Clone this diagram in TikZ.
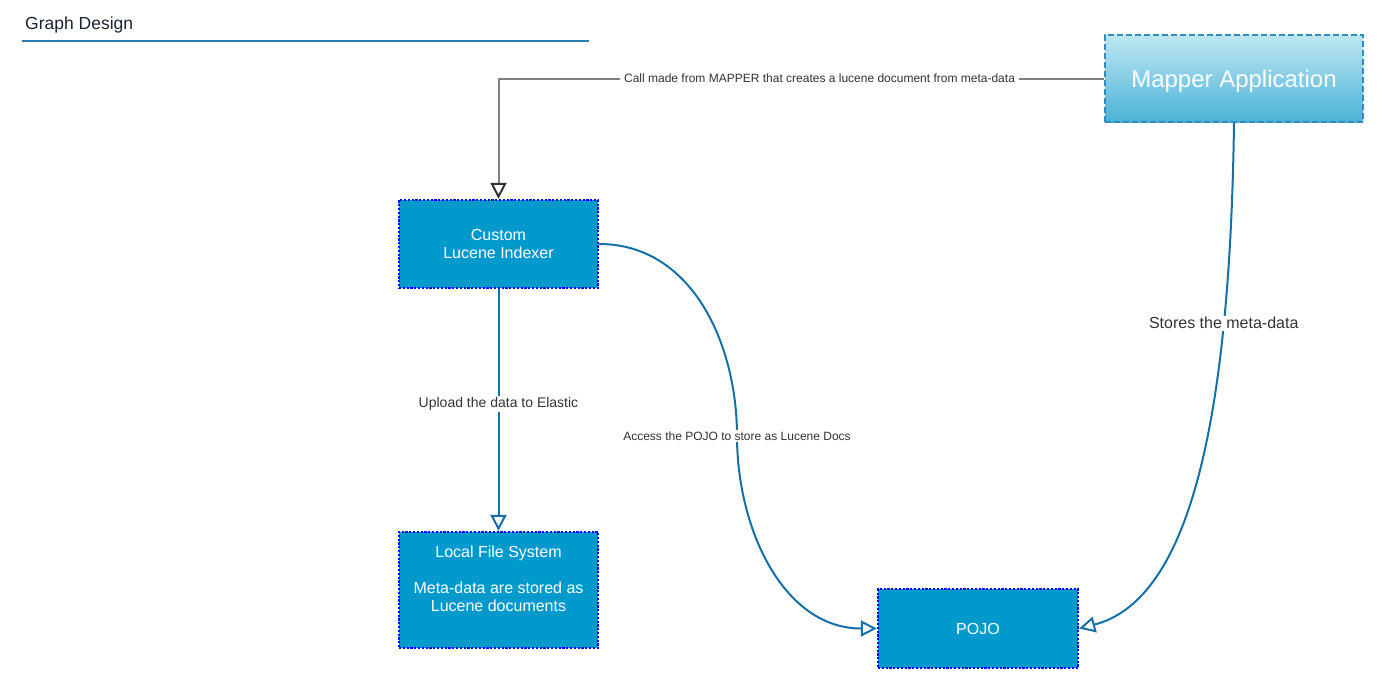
\documentclass[tikz,border=0pt]{standalone}
\usepackage{fontspec}
\setmainfont{Liberation Sans}
\usepackage{tikz}
\usetikzlibrary{arrows.meta,positioning}
\definecolor{boxblue}{RGB}{0,153,204}
\definecolor{edgeblue}{RGB}{20,112,167}
\definecolor{mappertop}{RGB}{190,231,243}
\definecolor{mapperbottom}{RGB}{75,178,215}
\definecolor{mapperborder}{RGB}{50,140,190}
\definecolor{labelgray}{RGB}{51,51,51}
\definecolor{titledark}{RGB}{25,35,50}
\definecolor{linegray}{RGB}{128,128,128}

\tikzset{
	storebox/.style={draw=blue, line width=2.4pt, dash pattern=on 2.2pt off 1.6pt, fill=boxblue,
		text=white, align=center, inner sep=0pt, font=\fontsize{16}{18}\selectfont},
	edgelabel/.style={fill=white, text=labelgray, inner xsep=4pt, inner ysep=1.5pt},
	openhead/.style={-{Triangle[open, length=16pt, width=16pt]}}
}

\begin{document}
\begin{tikzpicture}[x=1pt, y=-1pt]

	\useasboundingbox (0,0) rectangle (1389,689);

	% title and rule
	\node[anchor=west, inner sep=0pt, text=titledark, font=\fontsize{17.5}{20}\selectfont] (title) at (25,24.5) {Graph Design};
	\draw[line width=2pt, color=edgeblue!90] (22,41) -- (589,41);

	% boxes
	\node[draw=mapperborder, line width=1.5pt, dash pattern=on 6pt off 3pt,
		top color=mappertop, bottom color=mapperbottom, text=white,
		minimum width=258pt, minimum height=87pt, inner sep=0pt, text depth=0pt,
		font=\fontsize{24}{26}\selectfont] (mapper) at (1234,78.5) {Mapper Application};
	\node[storebox, minimum width=199pt, minimum height=88pt] (indexer) at (498.5,244) {Custom\\Lucene Indexer};
	\node[storebox, minimum width=199pt, minimum height=116pt] (lfs) at (498.5,590) {};
	\node[text=white, align=center, inner sep=0pt, font=\fontsize{16}{18}\selectfont] (lfstext) at (498.5,579)
		{Local File System\\[18pt]Meta-data are stored as\\Lucene documents};
	\node[storebox, minimum width=200pt, minimum height=79pt] (pojo) at (978,628.5) {POJO};

	% call from the mapper
	\draw[line width=2pt, color=linegray, -{Triangle[open, length=16pt, width=16pt, color=black!80]}]
		(mapper.west) -| (indexer.north)
		node[edgelabel, pos=0.235, font=\fontsize{12}{14}\selectfont] (calllabel) {Call made from MAPPER that creates a lucene document from meta-data};

	% upload
	\draw[line width=2pt, color=edgeblue, openhead] (indexer.south) -- (lfs.north)
		node[edgelabel, pos=0.475, font=\fontsize{14}{16}\selectfont] (uploadlabel) {Upload the data to Elastic};

	% access the pojo
	\coordinate (accessmid) at (737,436);
	\draw[line width=2pt, color=edgeblue, openhead] (indexer.east) to[out=0, in=90] (accessmid)
		to[out=-90, in=180] (pojo.west);
	\node[edgelabel, font=\fontsize{12}{14}\selectfont] (accesslabel) at (accessmid) {Access the POJO to store as Lucene Docs};

	% store the meta-data
	\draw[line width=2pt, color=edgeblue, openhead] (mapper.south) .. controls (1230,420) and (1190,600) .. (pojo.east)
		node[edgelabel, pos=0.25, font=\fontsize{16}{18}\selectfont] (storelabel) {Stores the meta-data};

\end{tikzpicture}
\end{document}
